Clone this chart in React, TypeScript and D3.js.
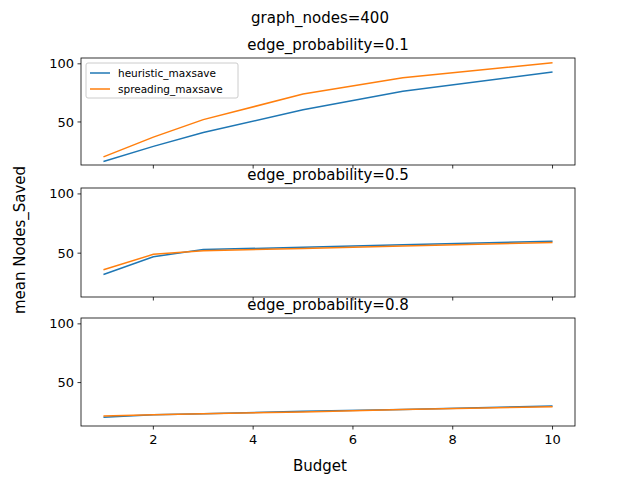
import * as d3 from "d3"

const budgets = [1, 2, 3, 5, 7, 10]
const probs = ["0.1", "0.5", "0.8"]
const heuristic = [
  [16, 29, 41, 60.5, 76.5, 93],
  [32, 47, 53, 55, 57, 60],
  [20.5, 22.5, 23.5, 25.5, 27, 30],
]
const spreading = [
  [20, 37, 52, 74, 88, 101],
  [36, 49, 52, 54, 56, 59],
  [21.5, 22.5, 23.5, 25, 27, 29.5],
]
const xTicks = [2, 4, 6, 8, 10]
const yTicks = [50, 100]

const left = 81, right = 575
const panels = [
  { top: 58, bottom: 165 },
  { top: 188, bottom: 297 },
  { top: 318, bottom: 426 },
]
const font = "DejaVu Sans, sans-serif"

export default function App() {
  const x = d3.scaleLinear().domain([0.55, 10.45]).range([left, right])
  return (
    <svg width={640} height={480} style={{ position: "absolute", left: 0, top: 0, fontFamily: font }}>
      <rect width={640} height={480} fill="#fff" />
      <text x={320} y={23} textAnchor="middle" fontSize={15}>graph_nodes=400</text>
      {panels.map((p, i) => {
        const y = d3.scaleLinear().domain([13, 105]).range([p.bottom, p.top])
        const line = d3.line<number>().x((_, j) => x(budgets[j])).y(d => y(d))
        return (
          <g key={i}>
            <text x={328} y={p.top - 8} textAnchor="middle" fontSize={15}>edge_probability={probs[i]}</text>
            {yTicks.map(t => (
              <g key={t}>
                <line x1={left - 3.5} x2={left} y1={y(t)} y2={y(t)} stroke="#000" strokeWidth={0.8} />
                <text x={left - 7} y={y(t)} dy="0.35em" textAnchor="end" fontSize={13}>{t}</text>
              </g>
            ))}
            {xTicks.map(t => (
              <g key={t}>
                <line x1={x(t)} x2={x(t)} y1={p.bottom} y2={p.bottom + 3.5} stroke="#000" strokeWidth={0.8} />
                {i === 2 && <text x={x(t)} y={p.bottom + 18} textAnchor="middle" fontSize={13}>{t}</text>}
              </g>
            ))}
            <path d={line(heuristic[i]) || ""} fill="none" stroke="#1f77b4" strokeWidth={1.5} />
            <path d={line(spreading[i]) || ""} fill="none" stroke="#ff7f0e" strokeWidth={1.5} />
            <rect x={left} y={p.top} width={right - left} height={p.bottom - p.top} fill="none" stroke="#000" strokeWidth={0.8} />
          </g>
        )
      })}
      <g>
        <rect x={86} y={63} width={152} height={35} fill="#fff" fillOpacity={0.8} stroke="#ccc" rx={2} />
        <line x1={90} x2={110} y1={73} y2={73} stroke="#1f77b4" strokeWidth={1.5} />
        <text x={118} y={73} dy="0.35em" fontSize={10.5}>heuristic_maxsave</text>
        <line x1={90} x2={110} y1={89} y2={89} stroke="#ff7f0e" strokeWidth={1.5} />
        <text x={118} y={89} dy="0.35em" fontSize={10.5}>spreading_maxsave</text>
      </g>
      <text x={320} y={471} textAnchor="middle" fontSize={15}>Budget</text>
      <text transform="translate(25,240) rotate(-90)" textAnchor="middle" fontSize={15}>mean Nodes_Saved</text>
    </svg>
  )
}
